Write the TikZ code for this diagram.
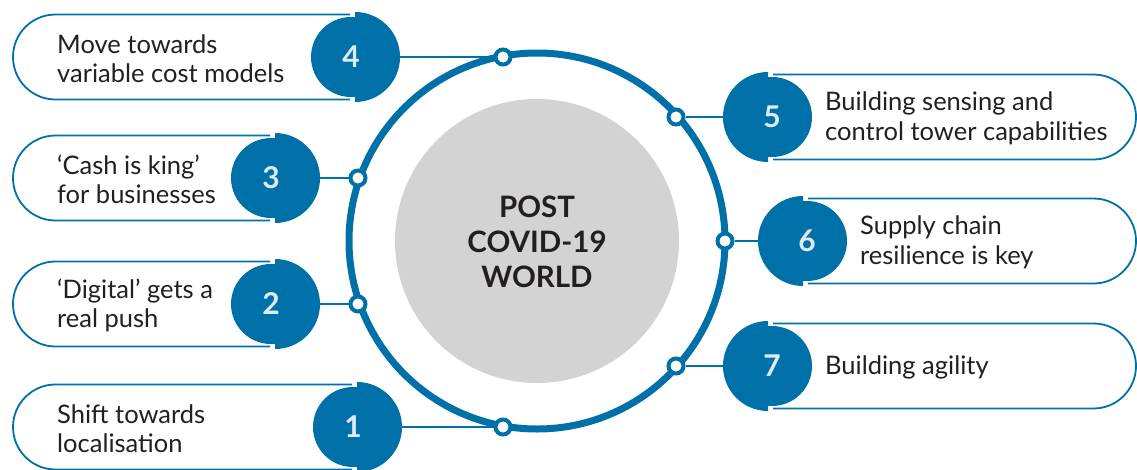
\documentclass[tikz,border=0pt]{standalone}
\usepackage{fontspec}
\setmainfont{Lato}
\usetikzlibrary{calc, positioning}
\definecolor{bblue}{HTML}{0070A8}
\definecolor{discgray}{HTML}{D3D3D3}
\definecolor{dtext}{HTML}{231F20}
\definecolor{numtext}{HTML}{DDEBF7}

\begin{document}
\begin{tikzpicture}[x=1pt, y=-1pt,
  ring/.style={draw=bblue, line width=7pt},
  dot/.style={circle, draw=bblue, fill=white, line width=4pt, minimum size=15pt, inner sep=0pt},
  conn/.style={draw=bblue, line width=2.5pt},
  boxline/.style={draw=bblue, line width=1.8pt},
  numdisc/.style={circle, fill=bblue, minimum size=80pt, inner sep=0pt, text=numtext,
    font=\fontsize{30}{30}\selectfont\bfseries},
  itemtext/.style={align=left, inner sep=0pt, text=dtext, font=\fontsize{25.5}{29.5}\selectfont}]
  \useasboundingbox (0,0) rectangle (1137,469);

  % centre disc and ring
  \fill[discgray] (537,241) circle[radius=142];
  \draw[ring] (537,241) circle[radius=188];
  \node[align=center, text=dtext, font=\fontsize{29.5}{35}\selectfont\bfseries] (title) at (537,242) {POST\\COVID-19\\WORLD};

  % dots on the ring
  \foreach \n/\x/\y in {1/503/427, 2/358/304, 3/358/178, 4/503/57, 5/676/117, 6/725/241, 7/676/366}
    \node[dot] (d\n) at (\x,\y) {};

  % left side
  \foreach \n/\y/\sx/\txt in {4/57/355/{Move towards\\variable cost models},
                              3/178/275/{‘Cash is king’\\for businesses},
                              2/304/275/{‘Digital’ gets a\\real push},
                              1/427/357/{Shift towards\\localisation}} {
    \draw[boxline] (\sx-5,\y-42.5) -- (55.5,\y-42.5) arc[start angle=-90, end angle=-270, radius=42.5] -- (\sx-5,\y+42.5);
    \fill[bblue] (\sx,\y-45) arc[start angle=-90, end angle=90, radius=45] -- cycle;
    \node[numdisc] (n\n) at (\sx-4,\y) {\n};
    \node[itemtext, anchor=west] (t\n) at (57,\y+1.5) {\txt};
    \draw[conn] (n\n) -- (d\n);
  }

  % right side
  \foreach \n/\y/\sx/\txt in {5/117/768/{Building sensing and\\control tower capabilities},
                              6/241/803/{Supply chain\\resilience is key},
                              7/366/768/{Building agility}} {
    \draw[boxline] (\sx+5,\y-42.5) -- (1093.5,\y-42.5) arc[start angle=-90, end angle=90, radius=42.5] -- (\sx+5,\y+42.5);
    \fill[bblue] (\sx,\y-45) arc[start angle=270, end angle=90, radius=45] -- cycle;
    \node[numdisc] (n\n) at (\sx+4,\y) {\n};
    \node[itemtext, anchor=west] (t\n) at (\sx+57,\y+1.5) {\txt};
    \draw[conn] (n\n) -- (d\n);
  }
\end{tikzpicture}
\end{document}
